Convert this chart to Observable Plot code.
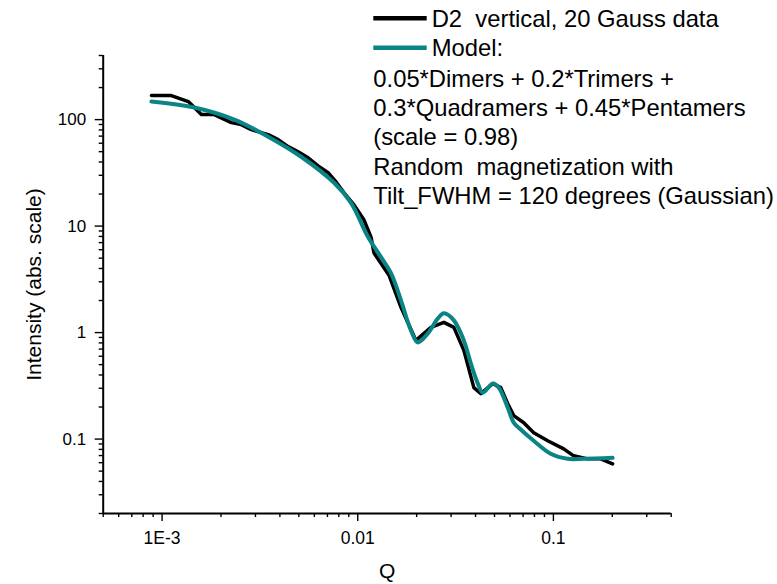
<!DOCTYPE html>
<html>
<head>
<meta charset="utf-8">
<script src="https://cdn.jsdelivr.net/npm/d3@7"></script>
<script src="https://cdn.jsdelivr.net/npm/@observablehq/plot@0.6"></script>
<style>
  html, body { margin: 0; padding: 0; background: #fff; }
  #chart { width: 777px; height: 584px; }
</style>
</head>
<body>
<div id="chart"></div>
<script>
// ---- Data ----
const dataQ = [8.82e-4, 1.115e-3, 1.362e-3, 1.587e-3, 1.848e-3, 2.258e-3, 2.539e-3, 2.855e-3, 3.485e-3, 3.92e-3,
  4.41e-3, 4.96e-3, 5.577e-3, 6.27e-3, 7.055e-3, 7.75e-3, 8.51e-3, 9.57e-3, 0.01077, 0.01169, 0.01211, 0.01444,
  0.01663, 0.01983, 0.02366, 0.02756, 0.03099, 0.03485, 0.03921, 0.04258, 0.04902, 0.05384, 0.05844, 0.06271,
  0.07055, 0.07932, 0.0935, 0.1129, 0.1269, 0.1496, 0.1743, 0.2007];
const dataI = [168.3, 168.3, 147.8, 111.5, 111.5, 93.7, 89.7, 80.5, 72.2, 64.8,
  55.7, 49.9, 43.8, 36.8, 31.7, 26.0, 20.5, 15.8, 11.4, 7.89, 5.58, 3.46,
  1.727, 0.844, 1.119, 1.248, 1.119, 0.680, 0.304, 0.267, 0.332, 0.304, 0.215, 0.166,
  0.1424, 0.1147, 0.0964, 0.0810, 0.0696, 0.0652, 0.0652, 0.0585];

const modelQ = [8.82e-4, 1.462e-3, 2.338e-3, 3.485e-3, 5.136e-3, 7.57e-3, 9.24e-3, 0.01129, 0.01315, 0.01479, 0.01663,
  0.0187, 0.02031, 0.02284, 0.02569, 0.02756, 0.03099, 0.03485, 0.03785, 0.04111, 0.04358, 0.04902, 0.05259,
  0.05844, 0.06271, 0.06653, 0.07932, 0.0969, 0.1183, 0.1428, 0.2007];
const modelI = [147.8, 129.8, 100, 69.2, 44.8, 25.5, 16.5, 7.89, 5.11, 3.61, 2.01,
  1.049, 0.808, 0.983, 1.361, 1.517, 1.303, 0.844, 0.513, 0.332, 0.273, 0.332, 0.304,
  0.197, 0.1424, 0.1278, 0.0964, 0.0727, 0.0652, 0.0652, 0.0666];

const xMajor = [0.001, 0.01, 0.1];
const xMajorLabels = ["1E-3", "0.01", "0.1"];
const xMinor = [5e-4, 6e-4, 7e-4, 8e-4, 9e-4, 2e-3, 3e-3, 4e-3, 5e-3, 6e-3, 7e-3, 8e-3, 9e-3,
  0.02, 0.03, 0.04, 0.05, 0.06, 0.07, 0.08, 0.09, 0.2, 0.3, 0.4];
const yMajor = [0.1, 1, 10, 100];
const yMajorLabels = ["0.1", "1", "10", "100"];
const yMinor = [0.02, 0.03, 0.04, 0.05, 0.06, 0.07, 0.08, 0.09, 0.2, 0.3, 0.4, 0.5, 0.6, 0.7, 0.8, 0.9,
  2, 3, 4, 5, 6, 7, 8, 9, 20, 30, 40, 50, 60, 70, 80, 90, 200, 300, 400];

const legendLabels = ["D2  vertical, 20 Gauss data", "Model:"];
const legendNotes = ["0.05*Dimers + 0.2*Trimers +", "0.3*Quadramers + 0.45*Pentamers",
  "(scale = 0.98)", "Random  magnetization with", "Tilt_FWHM = 120 degrees (Gaussian)"];

const dataRows = dataQ.map((q, i) => ({q, I: dataI[i]}));
const modelRows = modelQ.map((q, i) => ({q, I: modelI[i]}));

const BLACK = "#000000";
const TEAL = "#0a8484";
const FONT = "'Liberation Sans', Arial, Helvetica, sans-serif";

const chart = Plot.plot({
  width: 777,
  height: 584,
  marginLeft: 102.7,
  marginRight: 106.3,
  marginTop: 55,
  marginBottom: 71,
  style: {fontFamily: FONT, color: "black", background: "white", overflow: "visible"},
  x: {type: "log", domain: [5e-4, 0.4], axis: null},
  y: {type: "log", domain: [0.02, 400], axis: null},
  marks: [
    Plot.axisX({ticks: xMinor, tickSize: 4, tickFormat: () => "", strokeWidth: 1.4, label: null}),
    Plot.axisX({ticks: xMajor, tickSize: 8, tickPadding: 10, strokeWidth: 1.4, fontSize: 17.5,
      tickFormat: (d) => xMajorLabels[xMajor.indexOf(d)], label: null}),
    Plot.axisY({ticks: yMinor, tickSize: 4, tickFormat: () => "", strokeWidth: 1.4, label: null}),
    Plot.axisY({ticks: yMajor, tickSize: 8, tickPadding: 9, strokeWidth: 1.4, fontSize: 17,
      tickFormat: (d) => yMajorLabels[yMajor.indexOf(d)], label: null}),
    Plot.ruleX([5e-4], {stroke: BLACK, strokeWidth: 2}),
    Plot.ruleY([0.02], {stroke: BLACK, strokeWidth: 2}),
    Plot.line(dataRows, {x: "q", y: "I", stroke: BLACK, strokeWidth: 3.5, strokeLinejoin: "round"}),
    Plot.line(modelRows, {x: "q", y: "I", stroke: TEAL, strokeWidth: 4, curve: "catmull-rom"}),
    Plot.text(["Q"], {frameAnchor: "bottom", dy: 64, fontSize: 21, text: (d) => d, fill: BLACK,
      textAnchor: "middle", lineAnchor: "bottom"}),
    Plot.text(["Intensity (abs. scale)"], {frameAnchor: "left", dx: -69, rotate: -90, fontSize: 21,
      text: (d) => d, fill: BLACK, textAnchor: "middle", lineAnchor: "middle"})
  ]
});

document.getElementById("chart").appendChild(chart);

// ---- Legend (drawn in the SVG, above the plot area) ----
const svg = d3.select(chart);
const lg = svg.append("g").attr("font-family", FONT).attr("font-size", 23.8)
  .attr("fill", BLACK).attr("text-anchor", "start");
const sampleColors = [BLACK, TEAL];
const sampleY = [18.3, 47.7];
sampleY.forEach((y, i) => {
  lg.append("line").attr("x1", 373.3).attr("x2", 426.7).attr("y1", y).attr("y2", y)
    .attr("stroke", sampleColors[i]).attr("stroke-width", 4.5);
  lg.append("text").attr("x", 431.7).attr("y", y).attr("dy", "0.36em").attr("text-anchor", "start")
    .style("white-space", "pre").text(legendLabels[i]);
});
const noteY = [78.3, 107.3, 136.5, 166, 195];
legendNotes.forEach((t, i) => {
  lg.append("text").attr("x", 373.3).attr("y", noteY[i]).attr("dy", "0.36em").attr("text-anchor", "start")
    .style("white-space", "pre").text(t);
});
</script>
</body>
</html>
